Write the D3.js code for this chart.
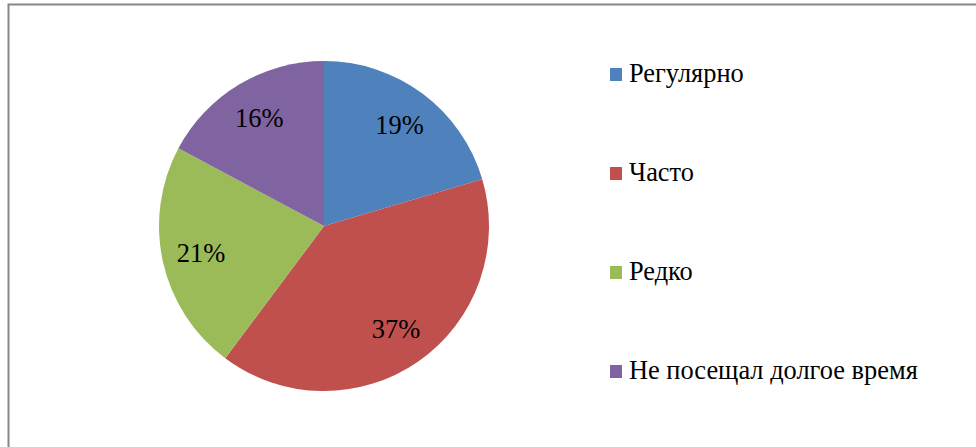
<!DOCTYPE html>
<html>
<head>
<meta charset="utf-8">
<script src="https://cdn.jsdelivr.net/npm/d3@7"></script>
</head>
<body style="margin:0">
<svg id="chart" width="976" height="447"></svg>
<script>
const categories = ["Регулярно", "Часто", "Редко", "Не посещал долгое время"];
const values = [19, 37, 21, 16];
const colors = ["#4F81BD", "#C0504D", "#9BBB59", "#8064A2"];

const W = 976, H = 447;
const FONT = '"Liberation Serif"';
const svg = d3.select("#chart");

// chart frame
svg.append("rect")
  .attr("x", 8.5).attr("y", 4.5)
  .attr("width", W + 10).attr("height", H + 10)
  .attr("fill", "none")
  .attr("stroke", "#878787")
  .attr("stroke-width", 2);

const cx = 324, cy = 226, R = 165;
const g = svg.append("g").attr("transform", `translate(${cx},${cy})`);

const pie = d3.pie().sort(null).value(d => d.v);
const data = pie(categories.map((c, i) => ({ c, v: values[i], color: colors[i] })));

const arc = d3.arc().innerRadius(0).outerRadius(R);
const labelArc = d3.arc().innerRadius(126).outerRadius(126);

g.selectAll("path.slice")
  .data(data)
  .join("path")
  .attr("class", "slice")
  .attr("d", arc)
  .attr("fill", d => d.data.color);

g.selectAll("text.pct")
  .data(data)
  .join("text")
  .attr("class", "pct")
  .attr("transform", d => `translate(${labelArc.centroid(d)})`)
  .attr("text-anchor", "middle")
  .attr("dy", "0.33em")
  .style("font-family", FONT)
  .style("font-size", "26.5px")
  .style("fill", "#000")
  .text(d => d.data.v + "%");

// legend
const legendY = d3.scalePoint().domain(categories).range([74, 371]);
const items = svg.append("g").selectAll("g.item")
  .data(categories)
  .join("g")
  .attr("class", "item")
  .attr("transform", d => `translate(610,${legendY(d)})`);

items.append("rect")
  .attr("x", 0).attr("y", -6)
  .attr("width", 12).attr("height", 13)
  .attr("fill", (d, i) => colors[i]);

items.append("text")
  .attr("x", 19)
  .attr("y", 8)
  .style("font-family", FONT)
  .style("font-size", "26.4px")
  .style("fill", "#000")
  .text(d => d);
</script>
</body>
</html>
